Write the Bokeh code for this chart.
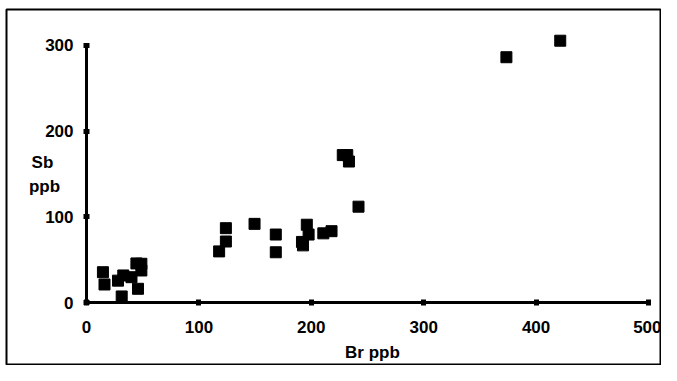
from bokeh.plotting import figure
from bokeh.models import Label, FixedTicker
from bokeh.embed import file_html
from bokeh.resources import INLINE

# Data (Br ppb vs Sb ppb)
br_ppb = [14.6, 16, 28, 32.7, 40, 44.4, 48.8, 48.8, 45.8, 31.3,
          124, 124, 118, 149.5, 168.4, 168.4,
          228, 232, 233.5, 242,
          196, 197.6, 192.6, 191.7, 210.7, 218,
          373.6, 421.5]
sb_ppb = [35.8, 21.5, 26, 32, 30, 46, 45.6, 37.8, 16.5, 7.6,
          87, 71.5, 60, 92, 79.6, 59,
          172, 172, 164.5, 112,
          91, 79.6, 67, 71, 81, 83.5,
          285.8, 305]
x_ticks = [0, 100, 200, 300, 400, 500]
y_ticks = [0, 100, 200, 300]

W, H = 661, 365
p = figure(width=W, height=H, output_backend="svg", toolbar_location=None,
           x_range=(-71.2, 511.6), y_range=(-72.7, 341.3),
           min_border_left=6, min_border_right=0, min_border_bottom=0,
           min_border_top=9)
p.grid.visible = False
p.background_fill_color = "white"
p.border_fill_color = "white"
p.outline_line_color = "black"
p.outline_line_width = 2

for ax, ticks in ((p.xaxis, x_ticks), (p.yaxis, y_ticks)):
    ax.fixed_location = 0
    ax.ticker = FixedTicker(ticks=ticks)
    ax.bounds = (ticks[0], ticks[-1])
    ax.axis_line_width = 3
    ax.axis_line_color = "black"
    ax.major_tick_in = 3
    ax.major_tick_out = 3
    ax.major_tick_line_width = 5
    ax.major_tick_line_color = "black"
    ax.minor_tick_line_color = None
    ax.major_label_text_font = "Liberation Sans"
    ax.major_label_text_font_style = "bold"
    ax.major_label_text_font_size = "17px"
    ax.major_label_text_color = "black"

p.xaxis.major_label_standoff = 15
p.yaxis.major_label_standoff = 10

p.scatter(br_ppb, sb_ppb, marker="square", size=11, fill_color="black",
          line_color="black")

for txt, x, y in (("Sb", -39.2, 163.4), ("ppb", -37.4, 135.5),
                  ("Br ppb", 254.4, -58.0)):
    p.add_layout(Label(x=x, y=y, text=txt, text_align="center",
                       text_baseline="middle", text_font="Liberation Sans",
                       text_font_style="bold", text_font_size="17px",
                       text_color="black"))

open("out.html", "w").write(file_html(p, INLINE))
